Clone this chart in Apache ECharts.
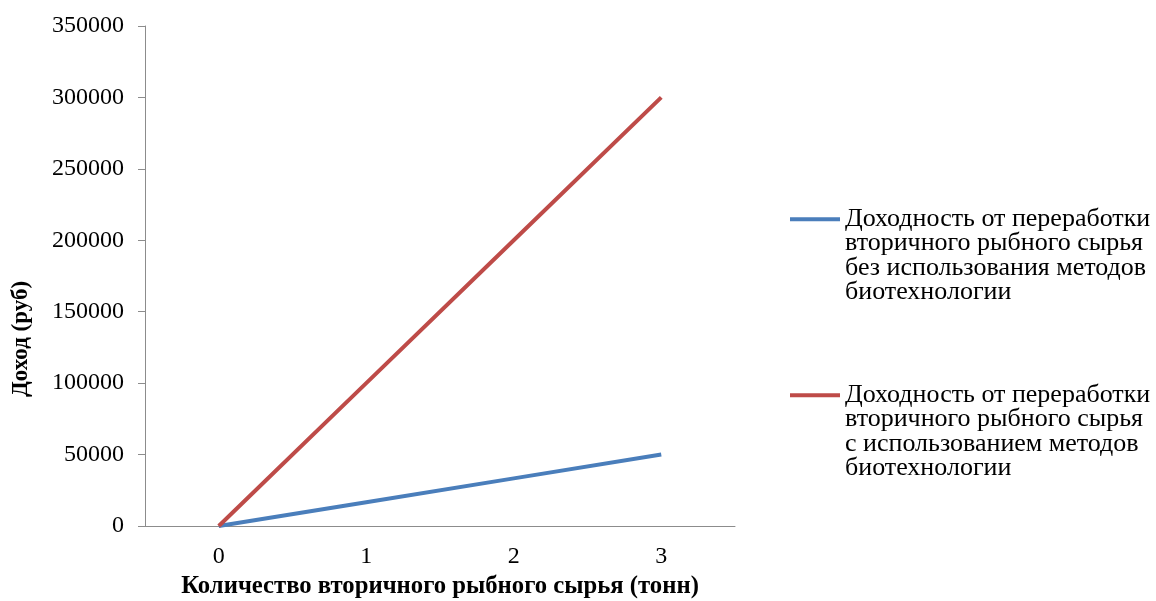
<!DOCTYPE html>
<html>
<head>
<meta charset="utf-8">
<script src="https://cdn.jsdelivr.net/npm/echarts@6/dist/echarts.min.js"></script>
<style>
  html, body { margin: 0; padding: 0; background: #fff; overflow: hidden; }
  #chart { width: 1156px; height: 601px; }
</style>
</head>
<body>
<div id="chart"></div>
<script>
// Quantity of secondary fish raw material, tonnes
const categories = ['0', '1', '2', '3'];
// Income without biotechnology methods, rub
const incomeWithout = [0, 16667, 33333, 50000];
// Income with biotechnology methods, rub
const incomeWith = [0, 100000, 200000, 300000];

const nameWithout = 'Доходность от переработки\nвторичного рыбного сырья\nбез использования методов\nбиотехнологии';
const nameWith = 'Доходность от переработки\nвторичного рыбного сырья\nс использованием методов\nбиотехнологии';

const FONT = '"Liberation Serif", "Times New Roman", serif';
const BLUE = '#4A7EBB';
const RED = '#BE4B48';
const AXIS = '#8c8c8c';

// legend entries: the line marker sits beside the first text line
const legendBase = {
  orient: 'vertical', left: 790, padding: 0,
  itemWidth: 50, itemHeight: 4, icon: 'rect', selectedMode: false,
  formatter: name => '\n\n\n' + name,
  textStyle: { fontFamily: FONT, fontSize: 26, color: '#000', lineHeight: 24.4 }
};

const chart = echarts.init(document.getElementById('chart'), null, { renderer: 'canvas' });
chart.setOption({
  animation: false,
  backgroundColor: '#fff',
  grid: {
    left: 145, width: 590, top: 26, height: 500,
    containLabel: false, outerBoundsMode: 'none'
  },
  legend: [
    Object.assign({}, legendBase, { data: [nameWithout], top: 133 }),
    Object.assign({}, legendBase, { data: [nameWith], top: 309 })
  ],
  xAxis: {
    type: 'category',
    data: categories,
    boundaryGap: true,
    name: 'Количество вторичного рыбного сырья (тонн)',
    nameLocation: 'middle',
    nameGap: 48,
    nameTextStyle: { fontFamily: FONT, fontSize: 24.7, fontWeight: 'bold', color: '#000' },
    axisLine: { lineStyle: { color: AXIS, width: 1 } },
    axisTick: { show: false },
    axisLabel: { fontFamily: FONT, fontSize: 24, color: '#000', margin: 19 },
    splitLine: { show: false }
  },
  yAxis: {
    type: 'value',
    min: 0, max: 350000, interval: 50000,
    name: 'Доход (руб)',
    nameLocation: 'middle',
    nameGap: 112,
    nameRotate: 90,
    nameTextStyle: {
      fontFamily: FONT, fontSize: 23, fontWeight: 'bold', color: '#000',
      padding: [0, 126, 0, 0]
    },
    axisLine: { show: true, lineStyle: { color: AXIS, width: 1 } },
    axisTick: { show: true, length: 7, inside: false, lineStyle: { color: AXIS } },
    axisLabel: {
      fontFamily: FONT, fontSize: 24, color: '#000', margin: 21,
      formatter: v => String(v)
    },
    splitLine: { show: false }
  },
  series: [
    {
      name: nameWithout, type: 'line', data: incomeWithout,
      showSymbol: false, symbol: 'none',
      lineStyle: { color: BLUE, width: 4 }, itemStyle: { color: BLUE }
    },
    {
      name: nameWith, type: 'line', data: incomeWith,
      showSymbol: false, symbol: 'none',
      lineStyle: { color: RED, width: 4 }, itemStyle: { color: RED }
    }
  ]
});
</script>
</body>
</html>
